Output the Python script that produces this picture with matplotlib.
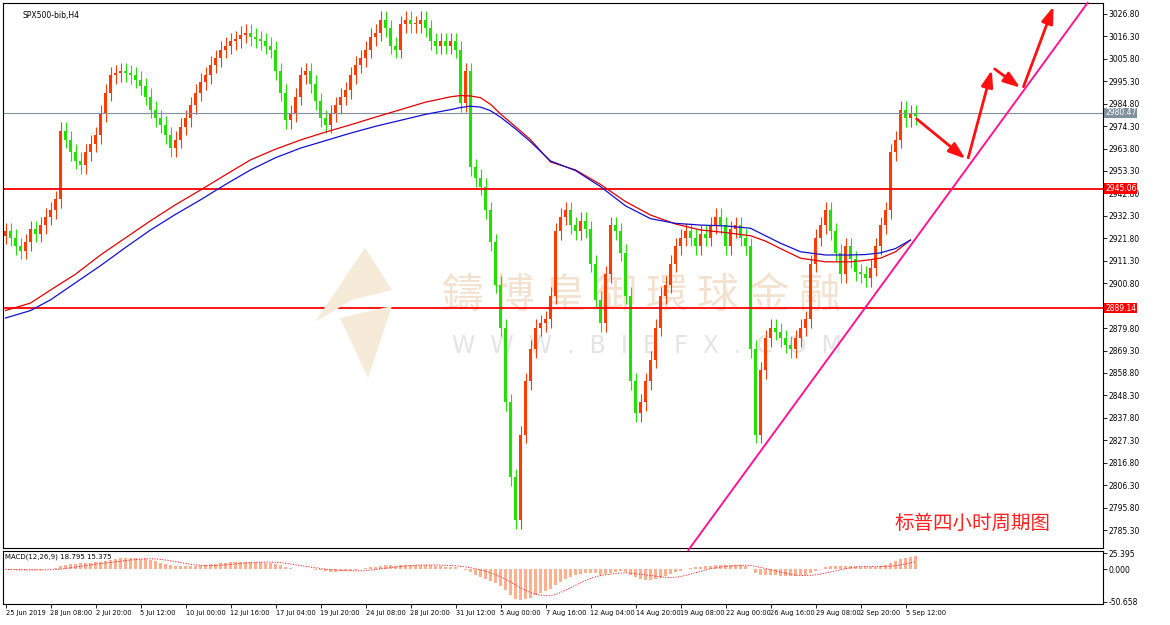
import matplotlib
matplotlib.use("Agg")
import matplotlib.pyplot as plt
import numpy as np
import pandas as pd
from matplotlib.patches import Polygon

plt.rcParams['font.family'] = ['DejaVu Sans', 'Noto Sans CJK SC']

closes = [2925,2922,2918,2916,2920,2926,2924,2928,2932,2935,
          2940,2972,2968,2962,2958,2956,2962,2966,2970,2980,
          2990,2998,2999,3000,2999,2998,2996,2993,2988,2982,
          2978,2975,2970,2964,2968,2974,2978,2984,2990,2995,
          2998,3003,3006,3010,3012,3014,3015,3017,3018,3016,
          3015,3014,3012,3010,3000,2990,2977,2980,2988,2998,
          3000,2994,2986,2978,2975,2980,2984,2988,2991,2998,
          3003,3006,3010,3016,3018,3024,3020,3012,3010,3022,
          3024,3022,3022,3024,3020,3014,3012,3014,3012,3014,
          3010,2985,3000,2955,2950,2946,2935,2920,2900,2880,
          2845,2810,2790,2830,2855,2870,2880,2882,2884,2895,
          2925,2932,2935,2928,2925,2930,2926,2910,2893,2882,
          2905,2928,2925,2915,2895,2855,2840,2845,2855,2865,
          2880,2895,2900,2910,2918,2922,2925,2922,2918,2924,
          2922,2928,2932,2928,2918,2926,2928,2922,2918,2870,
          2830,2860,2875,2880,2878,2875,2872,2870,2875,2880,
          2884,2910,2922,2928,2935,2925,2915,2905,2918,2912,
          2906,2905,2903,2908,2918,2928,2935,2962,2968,2982,
          2978,2980,2979]

ma_red_x = [0, 5, 9, 14, 19, 24, 29, 34, 39, 44, 49, 54, 59, 64, 69, 74, 79, 84, 89, 91, 93, 95, 97,
            99, 102, 105, 109, 114, 119, 124, 129, 134, 139, 144, 149, 152, 155, 159, 164, 169, 172, 175, 178, 181]
ma_red_y = [2888, 2891.5, 2897.6, 2905, 2914, 2922, 2930, 2937.5, 2944.4, 2951.5, 2958.5, 2963.5, 2967.8,
            2971.5, 2974.9, 2978.5, 2982, 2985.5, 2988, 2988.6, 2988.4, 2987.6, 2984.5,
            2980, 2974, 2968, 2957.5, 2953.8, 2947, 2939, 2932.7, 2928.5, 2925.7, 2924.5, 2923,
            2920.5, 2917, 2912.5, 2910.8, 2910.8, 2911.5, 2912.5, 2915.5, 2921]
ma_blue_x = [0, 5, 9, 14, 19, 24, 29, 34, 39, 44, 49, 54, 59, 64, 69, 74, 79, 84, 89, 91, 93, 95, 97,
             99, 102, 105, 109, 114, 119, 124, 129, 134, 139, 144, 149, 152, 155, 159, 164, 169, 172, 175, 178, 181]
ma_blue_y = [2884.5, 2888, 2893, 2901, 2909, 2917.5, 2925.7, 2933, 2939.8, 2947, 2953.8, 2959.5, 2964,
             2967.5, 2971, 2974.2, 2977, 2979.8, 2982, 2983, 2983.6, 2983.2, 2981.5,
             2978.5, 2973, 2967, 2958, 2953.5, 2946, 2937, 2931, 2928.8, 2928, 2927.6, 2926.5,
             2923, 2919.5, 2915.5, 2914, 2914, 2914.2, 2915, 2917, 2921]

price_ticks = [3026.80,3016.30,3005.80,2995.30,2984.80,2974.30,2963.80,2953.30,2942.80,2932.30,
               2921.80,2911.30,2900.80,2879.80,2869.30,2858.80,2848.30,2837.80,2827.30,2816.80,
               2806.30,2795.80,2785.30]
date_labels = ["25 Jun 2019","28 Jun 08:00","2 Jul 20:00","5 Jul 12:00","10 Jul 00:00","12 Jul 16:00",
               "17 Jul 04:00","19 Jul 20:00","24 Jul 08:00","28 Jul 20:00","31 Jul 12:00","5 Aug 00:00",
               "7 Aug 16:00","12 Aug 04:00","14 Aug 20:00","19 Aug 08:00","22 Aug 00:00","26 Aug 16:00",
               "29 Aug 08:00","2 Sep 20:00","5 Sep 12:00"]
level_hi, level_lo, last_price = 2945.06, 2889.14, 2980.47

W, H = 1170, 625
fig = plt.figure(figsize=(11.7, 6.25), dpi=100)
ax = fig.add_axes([3/W, 1-548/H, 1100/W, 545/H])
mx = fig.add_axes([3/W, 1-604/H, 1100/W, 53/H])

n = len(closes)
xs = np.arange(n)
c = np.array(closes, float)
o = np.concatenate([[c[0]-2], c[:-1]])
hi = np.maximum(o, c) + 4
lo = np.minimum(o, c) - 4
for i in range(n):
    col = '#ff3b00' if c[i] >= o[i] else '#22e000'
    ax.vlines(xs[i], lo[i], hi[i], color=col, lw=0.8, zorder=2)
    ax.bar(xs[i], max(abs(c[i]-o[i]), 0.6), bottom=min(o[i], c[i]), width=0.55, color=col, lw=0, zorder=2)

ax.plot(ma_red_x, ma_red_y, color='#e00000', lw=0.9, zorder=3)
ax.plot(ma_blue_x, ma_blue_y, color='#1010d0', lw=0.9, zorder=3)
ax.axhline(level_hi, color='#ff0000', lw=1.3)
ax.axhline(level_lo, color='#ff0000', lw=1.3)
ax.axhline(last_price, color='#8090a0', lw=0.8)

ax.set_xlim(-0.5, 219.5)
ax.set_ylim(2776.9, 3031.9)
ax.plot([136.6, 216.4], [2776.0, 3031.9], color='#ff1493', lw=1.4, clip_on=False, zorder=4)
pts = [(181.8, 2978.5), (192.4, 2958.2), (197.4, 3001.8), (203.4, 2991.5), (209.8, 3031.5)]
for (x0, y0), (x1, y1) in zip(pts[:-1], pts[1:]):
    ax.annotate('', xy=(x1, y1), xytext=(x0, y0),
                arrowprops=dict(arrowstyle='-|>,head_length=1.0,head_width=0.35', color='#ff1010', lw=2),
                annotation_clip=False)

ax.yaxis.tick_right()
ax.set_yticks(price_ticks)
ax.set_yticklabels([f"{t:.2f}" for t in price_ticks], fontsize=5.5)
ax.tick_params(axis='y', length=3, pad=1, width=0.6)
ax.set_xticks([])
for yv, txt, bg in [(level_hi, f"{level_hi:.2f}", '#ff0000'), (level_lo, f"{level_lo:.2f}", '#ff0000'),
                    (last_price, f"{last_price:.2f}", '#8090a0')]:
    ax.text(1.002, yv, txt, transform=ax.get_yaxis_transform(), fontsize=5.5, color='white',
            va='center', ha='left', zorder=5, bbox=dict(boxstyle='square,pad=0.1', fc=bg, ec='none'))

ax.text(0.018, 0.985, "SPX500-bib,H4", transform=ax.transAxes, fontsize=5.5, va='top')
ax.text(0.81, 0.035, "标普四小时周期图", transform=ax.transAxes, fontsize=14, color='#ff2020',
        family=['Noto Sans CJK SC'])

ax.text(0.58, 0.46, "鑄 博 皇 御 環 球 金 融", transform=ax.transAxes, fontsize=30, color='#f3e2cf',
        ha='center', va='center', family=['Noto Sans CJK TC'], zorder=0.5)
ax.text(0.585, 0.37, "W  W  W  .  B  I  B  F  X  .  C  O  M", transform=ax.transAxes, fontsize=17,
        color='#e4e4e4', ha='center', va='center', zorder=0.5)
logo1 = [(315/W, 1-322/H), (365/W, 1-248/H), (392/W, 1-290/H), (352/W, 1-300/H)]
logo2 = [(340/W, 1-318/H), (392/W, 1-306/H), (368/W, 1-378/H)]
for lg in (logo1, logo2):
    fig.patches.append(Polygon(lg, closed=True, transform=fig.transFigure, fc='#f6ead9', ec='none'))

s = pd.Series(c)
macd = s.ewm(span=12, adjust=False).mean() - s.ewm(span=26, adjust=False).mean()
sig = macd.rolling(9, min_periods=1).mean()
mx.bar(xs, macd, width=0.45, color='#ffb090', lw=0)
mx.plot(xs, sig, color='#ff2020', lw=0.7, ls=(0, (1.2, 1.5)))
mx.set_xlim(-0.5, 219.5)
mx.set_ylim(-54.2, 29.0)
mx.yaxis.tick_right()
mx.set_yticks([25.395, 0.0, -50.658])
mx.set_yticklabels(["25.395", "0.000", "-50.658"], fontsize=5.5)
mx.tick_params(axis='y', length=3, pad=1, width=0.6)
mx.set_xticks(np.arange(len(date_labels)) * 9)
mx.set_xticklabels(date_labels, fontsize=4.8, ha='left')
mx.tick_params(axis='x', length=3, pad=1, width=0.6)
mx.text(0.002, 0.95, "MACD(12,26,9) 18.795 15.375", transform=mx.transAxes, fontsize=5, va='top')

fig.savefig("out.png", dpi=100)
